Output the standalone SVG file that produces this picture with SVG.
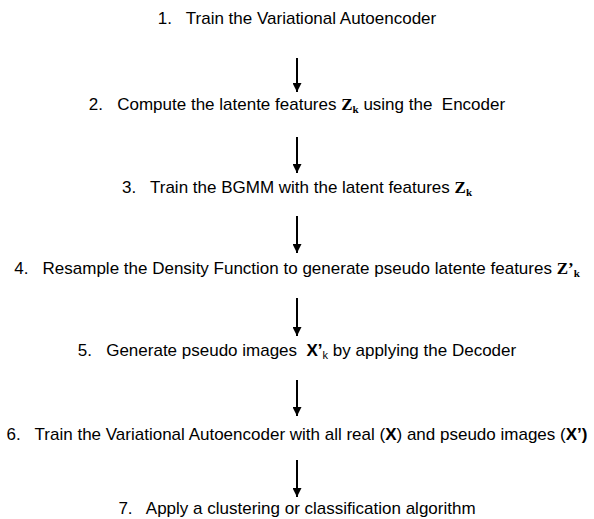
<svg xmlns="http://www.w3.org/2000/svg" width="594" height="519" viewBox="0 0 594 519">
<defs>
<marker id="ah" markerWidth="9" markerHeight="9" refX="9" refY="4.5" orient="auto" markerUnits="userSpaceOnUse" viewBox="0 0 9 9">
<path d="M0,0 L9,4.5 L0,9 Z" fill="#000"/>
</marker>
<style>
.t{font-family:"Liberation Sans",Arial,sans-serif;font-size:17px;fill:#000;text-anchor:middle;white-space:pre}
.z{font-family:"Liberation Serif","Times New Roman",serif;font-weight:bold}
.b{font-weight:bold}
.s{font-size:11px}
.c line{stroke:#000;stroke-width:2;marker-end:url(#ah)}
</style>
</defs>
<rect width="594" height="519" fill="#fff"/>
<g id="step1"><text class="t" x="297" y="24" xml:space="preserve">1.   Train the Variational Autoencoder</text></g>
<g id="step2"><text class="t" x="297" y="110" xml:space="preserve">2.   Compute the latente features <tspan class="z">Z</tspan><tspan class="z s" dy="3">k</tspan><tspan dy="-3"> using the  Encoder</tspan></text></g>
<g id="step3"><text class="t" x="297" y="193" xml:space="preserve">3.   Train the BGMM with the latent features <tspan class="z">Z</tspan><tspan class="z s" dy="3">k</tspan></text></g>
<g id="step4"><text class="t" x="297" y="274" xml:space="preserve">4.   Resample the Density Function to generate pseudo latente features <tspan class="z">Z’</tspan><tspan class="z s" dy="3">k</tspan></text></g>
<g id="step5"><text class="t" x="297" y="356" xml:space="preserve">5.   Generate pseudo images  <tspan class="b">X’</tspan><tspan class="s" dy="3">k</tspan><tspan dy="-3"> by applying the Decoder</tspan></text></g>
<g id="step6"><text class="t" x="297" y="440" xml:space="preserve">6.   Train the Variational Autoencoder with all real (<tspan class="b">X</tspan>) and pseudo images (<tspan class="b">X’)</tspan></text></g>
<g id="step7"><text class="t" x="297" y="514" xml:space="preserve">7.   Apply a clustering or classification algorithm</text></g>
<g id="connectors" class="c">
<line x1="297" y1="58" x2="297" y2="92"/>
<line x1="297" y1="137" x2="297" y2="173"/>
<line x1="297" y1="216" x2="297" y2="253"/>
<line x1="297" y1="298" x2="297" y2="336"/>
<line x1="297" y1="380" x2="297" y2="416"/>
<line x1="297" y1="460" x2="297" y2="497"/>
</g>
</svg>
